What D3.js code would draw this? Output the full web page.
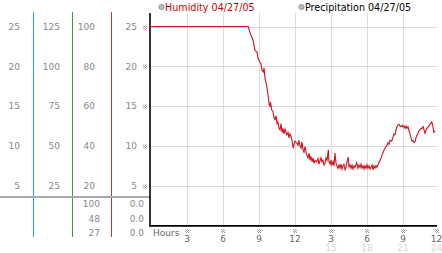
<!DOCTYPE html>
<html lang="en">
<head>
<meta charset="UTF-8" />
<title>Humidity 04/27/05</title>
<script src="https://d3js.org/d3.v7.min.js"></script>
<style>
  body { margin: 0; background: #fff; }
  text { font-family: "DejaVu Sans", sans-serif; }
</style>
</head>
<body>
<div id="viz"></div>
<script>
// ---- data ----
const leftTicks = [25, 20, 15, 10, 5];            // humidity scale values
const col1Labels = [25, 20, 15, 10, 5];
const col2Labels = [125, 100, 75, 50, 25];
const col3Labels = [100, 80, 60, 40, 20];
const col4Labels = [25, 20, 15, 10, 5];
const col3Bottom = ["100", "48", "27"];
const col4Bottom = ["0.0", "0.0", "0.0"];
const hourTicks = [3, 6, 9, 12, 15, 18, 21, 24];
const hourLabels = ["3", "6", "9", "12", "3", "6", "9", "12"];
const hourLabels2 = ["", "", "", "", "15", "18", "21", "24"];
const legendNames = ["Humidity 04/27/05", "Precipitation 04/27/05"];

// humidity readings: [hour, value]
const humidity = [
  [0, 25], [8.1, 25], [8.33, 23.9], [8.5, 23.3], [8.67, 22.0], [8.83, 21.8],
  [8.92, 21.0], [9.08, 20.5], [9.17, 20.3], [9.25, 19.5], [9.36, 19.3], [9.42, 19.8],
  [9.5, 18.5], [9.64, 17.6], [9.75, 16.4], [9.86, 15.1], [9.92, 15.0], [9.96, 15.5],
  [10.06, 14.5], [10.17, 14.3], [10.25, 13.5], [10.33, 13.3], [10.42, 13.8], [10.5, 12.8],
  [10.58, 13.0], [10.67, 12.2], [10.75, 12.0], [10.83, 12.8], [10.92, 11.7], [11.0, 12.2],
  [11.08, 11.5], [11.17, 12.1], [11.31, 11.4], [11.42, 11.7], [11.5, 11.0], [11.58, 11.5],
  [11.67, 11.2], [11.75, 10.7], [11.86, 9.7], [11.92, 10.2], [12.0, 10.6], [12.14, 10.4],
  [12.25, 10.1], [12.33, 10.7], [12.42, 10.0], [12.5, 9.7], [12.58, 10.5], [12.67, 9.5],
  [12.75, 9.2], [12.83, 9.9], [12.97, 8.9], [13.08, 8.5], [13.17, 9.1], [13.25, 8.2],
  [13.33, 8.7], [13.42, 8.0], [13.5, 8.5], [13.58, 7.8], [13.67, 8.2], [13.81, 8.0],
  [13.92, 8.4], [14.0, 7.7], [14.08, 8.1], [14.17, 8.5], [14.25, 8.0], [14.33, 8.2],
  [14.42, 7.6], [14.5, 7.8], [14.58, 8.5], [14.67, 8.2], [14.78, 9.5], [14.83, 8.0],
  [14.92, 7.7], [15.0, 8.2], [15.08, 7.6], [15.17, 8.0], [15.25, 7.5], [15.33, 9.1],
  [15.42, 7.8], [15.5, 7.5], [15.58, 7.2], [15.67, 7.6], [15.75, 7.2], [15.83, 7.7],
  [15.92, 7.1], [16.0, 7.5], [16.08, 7.7], [16.17, 7.0], [16.25, 7.3], [16.33, 8.0],
  [16.44, 8.6], [16.5, 7.3], [16.58, 7.6], [16.67, 7.2], [16.75, 7.6], [16.83, 7.1],
  [16.92, 7.5], [17.0, 7.3], [17.14, 7.9], [17.25, 7.2], [17.33, 7.6], [17.42, 7.3],
  [17.5, 7.7], [17.58, 7.2], [17.67, 7.5], [17.75, 7.1], [17.83, 7.5], [17.92, 7.2],
  [18.0, 7.6], [18.08, 7.2], [18.17, 7.5], [18.25, 7.1], [18.33, 7.3], [18.42, 7.6],
  [18.5, 7.0], [18.58, 7.5], [18.67, 7.2], [18.75, 7.5], [18.83, 7.3], [18.92, 7.6],
  [19.0, 8.0], [19.08, 8.1], [19.17, 8.5], [19.25, 8.9], [19.33, 9.1], [19.42, 9.5],
  [19.5, 9.7], [19.64, 10.0], [19.75, 10.4], [19.83, 10.2], [19.92, 10.7], [20.06, 10.6],
  [20.17, 11.1], [20.25, 11.5], [20.33, 11.4], [20.42, 12.0], [20.5, 12.4], [20.58, 12.6],
  [20.67, 12.7], [20.75, 12.5], [20.83, 12.4], [20.92, 12.6], [21.0, 12.4], [21.08, 12.5],
  [21.17, 12.2], [21.25, 12.5], [21.33, 12.2], [21.42, 12.4], [21.5, 11.9], [21.58, 11.5],
  [21.67, 11.0], [21.75, 10.6], [21.83, 10.7], [21.92, 10.4], [22.0, 10.5], [22.08, 11.0],
  [22.17, 11.4], [22.25, 11.6], [22.33, 11.9], [22.42, 12.0], [22.5, 12.2], [22.58, 12.2],
  [22.69, 12.4], [22.75, 12.0], [22.83, 11.6], [22.92, 12.0], [23.0, 12.2], [23.08, 12.4],
  [23.17, 12.5], [23.25, 12.7], [23.39, 13.0], [23.42, 12.9], [23.5, 12.4], [23.58, 11.7],
  [23.67, 11.9]
];

// ---- layout ----
const W = 442, H = 253;
const plotLeft = 150, plotRight = 437, plotTop = 13, plotBottom = 225.5;

const svg = d3.select("#viz").append("svg")
  .attr("width", W).attr("height", H);

const x = d3.scaleLinear().domain([0, 24]).range([151, 439]);
const y = d3.scaleLinear().domain([0, 25]).range([225.5, 26.5]);

// checker pattern for the little tick marks
const defs = svg.append("defs");
const pat = defs.append("pattern").attr("id", "chk")
  .attr("width", 2).attr("height", 2).attr("patternUnits", "userSpaceOnUse");
pat.append("rect").attr("width", 1).attr("height", 1).attr("fill", "#999");
pat.append("rect").attr("x", 1).attr("y", 1).attr("width", 1).attr("height", 1).attr("fill", "#999");

defs.append("clipPath").attr("id", "plotClip").append("rect")
  .attr("x", plotLeft).attr("y", plotTop)
  .attr("width", plotRight - plotLeft).attr("height", plotBottom - plotTop);

// grid
const grid = svg.append("g");
grid.selectAll(".hg").data(leftTicks).join("line")
  .attr("x1", plotLeft).attr("x2", plotRight)
  .attr("y1", d => Math.round(y(d)) + 0.5).attr("y2", d => Math.round(y(d)) + 0.5)
  .attr("stroke", "#dcdcdc");
grid.selectAll(".vg").data(hourTicks.filter(h => x(h) < plotRight)).join("line")
  .attr("x1", d => Math.round(x(d)) + 0.5).attr("x2", d => Math.round(x(d)) + 0.5)
  .attr("y1", plotTop).attr("y2", plotBottom)
  .attr("stroke", "#dcdcdc");

// left scale columns
const colLines = [
  { x: 33.5, color: "#2aa6cc" },
  { x: 72.5, color: "#2f9f3a" },
  { x: 111.5, color: "#b83a3a" }
];
svg.selectAll(".cl").data(colLines).join("line")
  .attr("x1", d => d.x).attr("x2", d => d.x)
  .attr("y1", 12).attr("y2", 237)
  .attr("stroke", d => d.color).attr("stroke-width", 1);

svg.append("line")
  .attr("x1", 0).attr("x2", plotLeft).attr("y1", 197).attr("y2", 197)
  .attr("stroke", "#a8a8a8").attr("stroke-width", 2);

const cols = [
  { labels: col1Labels, right: 20 },
  { labels: col2Labels, right: 60 },
  { labels: col3Labels, right: 95 },
  { labels: col4Labels, right: 137 }
];
cols.forEach(c => {
  svg.append("g").selectAll("text").data(c.labels).join("text")
    .attr("x", c.right)
    .attr("y", (d, i) => y(leftTicks[i]))
    .attr("dy", "0.36em")
    .attr("text-anchor", "end")
    .attr("font-size", 9)
    .attr("fill", "#888")
    .text(d => d);
});

const bottomRowsY = [204, 218.5, 233];
svg.append("g").selectAll("text").data(col3Bottom).join("text")
  .attr("x", 100).attr("y", (d, i) => bottomRowsY[i]).attr("dy", "0.36em")
  .attr("text-anchor", "end").attr("font-size", 9).attr("fill", "#888")
  .text(d => d);
svg.append("g").selectAll("text").data(col4Bottom).join("text")
  .attr("x", 144).attr("y", (d, i) => bottomRowsY[i]).attr("dy", "0.36em")
  .attr("text-anchor", "end").attr("font-size", 9).attr("fill", "#888")
  .text(d => d);

// y tick marks
svg.append("g").selectAll("rect").data(leftTicks).join("rect")
  .attr("x", 143).attr("y", d => Math.round(y(d)) - 1.5)
  .attr("width", 4).attr("height", 4).attr("fill", "url(#chk)");

// humidity line
const line = d3.line().x(d => x(d[0])).y(d => y(d[1]));
svg.append("path").datum(humidity)
  .attr("clip-path", "url(#plotClip)")
  .attr("d", line)
  .attr("fill", "none")
  .attr("stroke", "#d0101c")
  .attr("stroke-width", 1.1);

// axes frame
svg.append("line").attr("x1", 150).attr("x2", 150).attr("y1", plotTop).attr("y2", 226.5)
  .attr("stroke", "#000").attr("stroke-width", 1.6);
svg.append("line").attr("x1", 149.2).attr("x2", plotRight).attr("y1", 225.8).attr("y2", 225.8)
  .attr("stroke", "#000").attr("stroke-width", 1.8);

// x tick marks and labels
svg.append("text").attr("x", 153).attr("y", 236).attr("font-size", 9).attr("fill", "#666")
  .text("Hours");
const xl = svg.append("g");
const xpos = h => Math.min(x(h), 436.5);
xl.selectAll("rect").data(hourTicks).join("rect")
  .attr("x", d => Math.round(xpos(d)) - 2).attr("y", 229)
  .attr("width", 4).attr("height", 4).attr("fill", "url(#chk)");
xl.selectAll(".l1").data(hourTicks).join("text")
  .attr("x", d => xpos(d)).attr("y", 242)
  .attr("text-anchor", "middle").attr("font-size", 9).attr("fill", "#666")
  .text((d, i) => hourLabels[i]);
xl.selectAll(".l2").data(hourTicks).join("text")
  .attr("x", d => xpos(d)).attr("y", 250.5)
  .attr("text-anchor", "middle").attr("font-size", 9).attr("fill", "#d4d4d4")
  .text((d, i) => hourLabels2[i]);

// legend
const legend = [
  { name: legendNames[0], cx: 161.5, color: "#cc0000" },
  { name: legendNames[1], cx: 301.5, color: "#000" }
];
const lg = svg.append("g").selectAll("g").data(legend).join("g");
lg.append("circle").attr("cx", d => d.cx).attr("cy", 7).attr("r", 2.6)
  .attr("fill", "#bbb").attr("stroke", "#888").attr("stroke-width", 0.8);
lg.append("text").attr("x", d => d.cx + 3.5).attr("y", 10.5)
  .attr("font-size", 9.6).attr("fill", d => d.color)
  .text(d => d.name);
</script>
</body>
</html>
